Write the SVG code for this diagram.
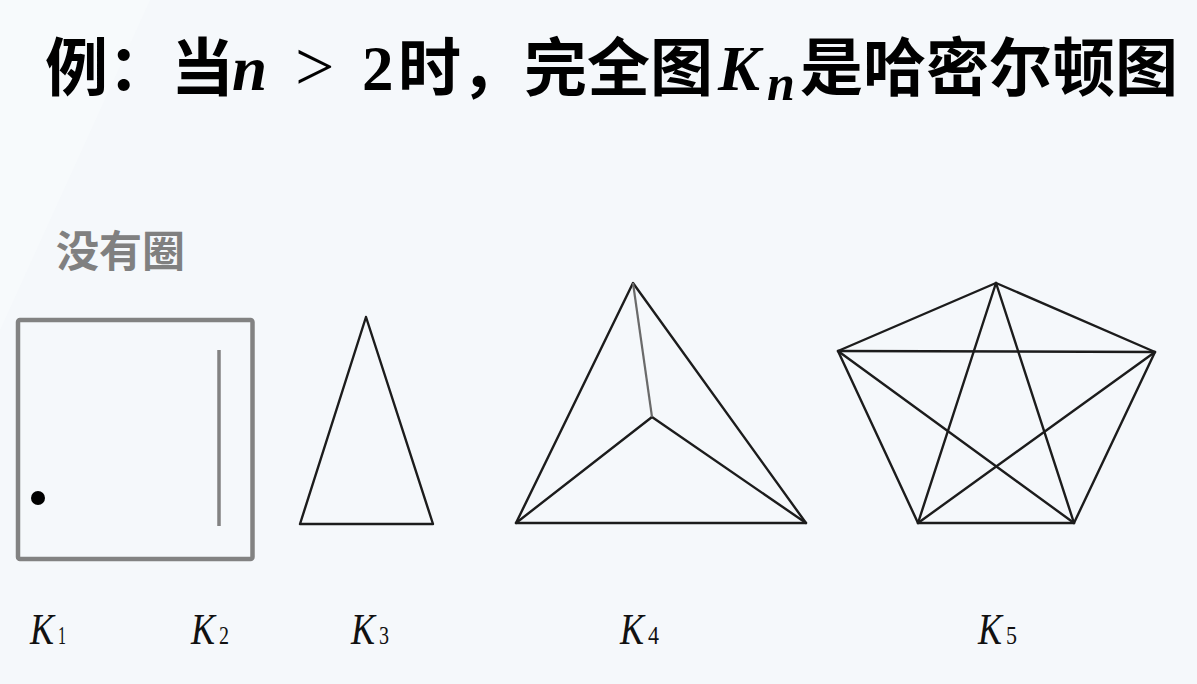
<svg xmlns="http://www.w3.org/2000/svg" width="1197" height="684" viewBox="0 0 1197 684">
<style>
.cjk{font-family:"Noto Sans CJK SC","Noto Sans",sans-serif;font-weight:bold;fill:#000}
.math{font-family:"Liberation Serif",serif;fill:#000}
.edge{stroke:#1c1c1c;stroke-width:2.4;fill:none;stroke-linecap:round;stroke-linejoin:round}
.lbl{font-family:"Liberation Serif",serif;font-style:italic;font-size:44px;fill:#111}
.sub{font-family:"Liberation Serif",serif;font-size:26px;fill:#111}
.gray{stroke:#828282;fill:none}
</style>
<rect width="1197" height="684" fill="#f5f8fb"/>
<polygon points="0,0 150,0 0,330" fill="#f8fafd" opacity="0.8"/>
<g id="title">
<text class="cjk" x="45" y="90" font-size="63">例：当</text>
<text class="math" x="232" y="90" font-size="63" font-style="italic" font-weight="bold">n</text>
<text class="math" x="295" y="90" font-size="70">&gt;</text>
<text class="math" x="362" y="90" font-size="63" font-weight="bold">2</text>
<text class="cjk" x="398" y="90" font-size="63">时，完全图</text>
<text class="math" x="718" y="90" font-size="63" font-style="italic" font-weight="bold">K</text>
<text class="math" x="767" y="100" font-size="50" font-style="italic" font-weight="bold">n</text>
<text class="cjk" x="800" y="90" font-size="63">是哈密尔顿图</text>
</g>
<g id="note">
<text x="56" y="267" font-size="43" font-family="Noto Sans CJK SC,sans-serif" font-weight="bold" fill="#808080">没有圈</text>
</g>
<g id="k1k2-box">
<rect class="gray" x="18" y="320" width="234.5" height="239" rx="2" stroke-width="4.5"/>
</g>
<g id="k1">
<circle cx="38" cy="498" r="7" fill="#000"/>
</g>
<g id="k2">
<line class="gray" x1="219" y1="350" x2="219" y2="526" stroke-width="3.5"/>
</g>
<g id="connectors">
<g id="k3-edges">
<polygon class="edge" points="366,317 300,524 433,524"/>
</g>
<g id="k4-edges">
<polygon class="edge" points="633,283 516,523 806,523"/>
<line class="edge" x1="516" y1="523" x2="652" y2="417"/>
<line class="edge" x1="806" y1="523" x2="652" y2="417"/>
<line x1="633" y1="283" x2="652" y2="417" stroke="#6a6a6a" stroke-width="2.2"/>
</g>
<g id="k5-edges">
<polygon class="edge" points="996,283 1155,352 1074,523 918,523 838,351"/>
<line class="edge" x1="996" y1="283" x2="918" y2="523"/>
<line class="edge" x1="996" y1="283" x2="1074" y2="523"/>
<line class="edge" x1="838" y1="351" x2="1155" y2="352"/>
<line class="edge" x1="838" y1="351" x2="1074" y2="523"/>
<line class="edge" x1="1155" y1="352" x2="918" y2="523"/>
</g>
</g>
<g id="labels">
<text class="lbl" x="30" y="644" textLength="24" lengthAdjust="spacingAndGlyphs">K</text>
<text class="sub" x="58" y="644" textLength="8" lengthAdjust="spacingAndGlyphs">1</text>
<text class="lbl" x="191" y="644" textLength="24" lengthAdjust="spacingAndGlyphs">K</text>
<text class="sub" x="219" y="644" textLength="10" lengthAdjust="spacingAndGlyphs">2</text>
<text class="lbl" x="351" y="644" textLength="24" lengthAdjust="spacingAndGlyphs">K</text>
<text class="sub" x="379" y="644" textLength="10" lengthAdjust="spacingAndGlyphs">3</text>
<text class="lbl" x="620" y="644" textLength="24" lengthAdjust="spacingAndGlyphs">K</text>
<text class="sub" x="648" y="644" textLength="11" lengthAdjust="spacingAndGlyphs">4</text>
<text class="lbl" x="978" y="644" textLength="24" lengthAdjust="spacingAndGlyphs">K</text>
<text class="sub" x="1006" y="644" textLength="11" lengthAdjust="spacingAndGlyphs">5</text>
</g>
</svg>
